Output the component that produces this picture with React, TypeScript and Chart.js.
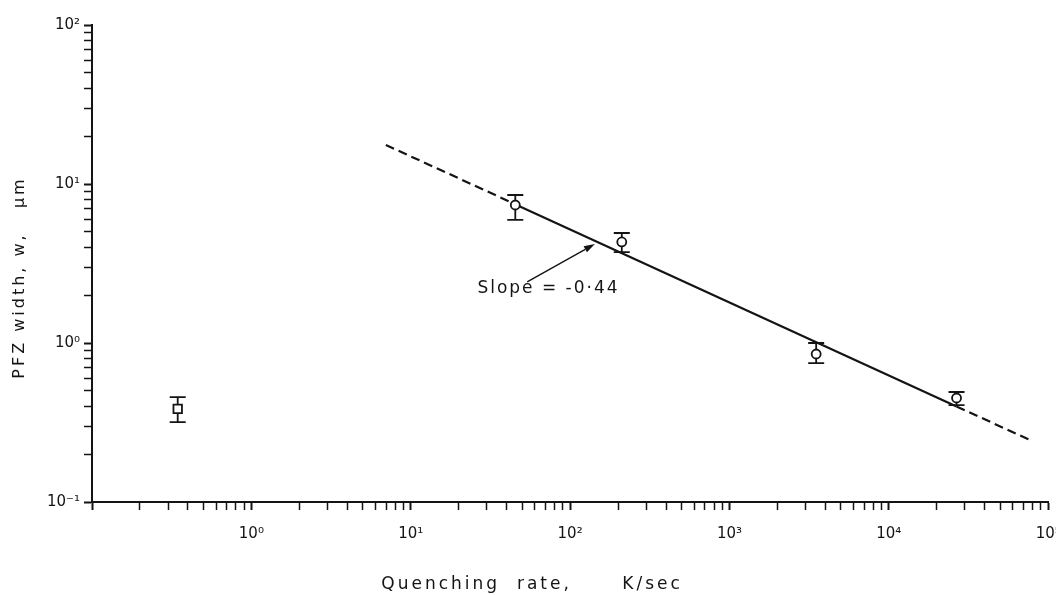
import React, { useEffect, useRef } from 'react';
import { Chart, registerables } from 'chart.js';

Chart.register(...registerables);

// ---- data ----
const circleRates = [45.3, 211, 3500, 26600];
const circleWidths = [7.38, 4.32, 0.853, 0.451];
const circleUpper = [8.53, 4.92, 1.0, 0.492];
const circleLower = [5.94, 3.73, 0.748, 0.407];

const squareRates = [0.345];
const squareWidths = [0.385];
const squareUpper = [0.457];
const squareLower = [0.318];

const fitRates = [6.98, 47.3, 26600, 77200];
const fitWidths = [17.6, 7.31, 0.399, 0.245];
const fitSegmentDashed = [true, false, true];

const xDecades = [-1, 0, 1, 2, 3, 4, 5];
const yDecades = [-1, 0, 1, 2];
const xTickLabels = ['10⁻¹', '10⁰', '10¹', '10²', '10³', '10⁴', '10⁵'];
const yTickLabels = ['10⁻¹', '10⁰', '10¹', '10²'];
const xHiddenLabels = ['10⁻¹'];

const xTitle = 'Quenching  rate,      K/sec';
const yTitle = 'PFZ width, w,   μm';
const slopeLabel = 'Slope = -0·44';
const arrowTail = [53.8, 2.42];
const arrowTip = [143, 4.2];
const slopeLabelAt = [26.2, 2.19];

const INK = '#141414';
const FONT = '"DejaVu Sans", sans-serif';

function logTicks(decades: number[]) {
  const vals: { value: number; major: boolean }[] = [];
  for (let i = 0; i < decades.length - 1; i++) {
    for (let m = 1; m <= 9; m++) {
      vals.push({ value: m * Math.pow(10, decades[i]), major: m === 1 });
    }
  }
  vals.push({ value: Math.pow(10, decades[decades.length - 1]), major: true });
  return vals;
}

function labelFor(value: number, decades: number[], labels: string[], hidden: string[] = []) {
  const l = Math.log10(value);
  const r = Math.round(l);
  if (Math.abs(l - r) > 1e-6) return '';
  const idx = decades.indexOf(r);
  if (idx < 0) return '';
  const s = labels[idx];
  return hidden.includes(s) ? '' : s;
}

const overlay = {
  id: 'overlay',
  beforeDatasetsDraw(chart: any) {
    const { ctx, scales } = chart;
    const x = scales.x;
    const y = scales.y;
    ctx.save();
    ctx.strokeStyle = INK;
    ctx.lineWidth = 1.8;
    const drawBars = (rates: number[], up: number[], lo: number[]) => {
      rates.forEach((r, i) => {
        const px = x.getPixelForValue(r);
        const top = y.getPixelForValue(up[i]);
        const bot = y.getPixelForValue(lo[i]);
        ctx.beginPath();
        ctx.moveTo(px, top);
        ctx.lineTo(px, bot);
        ctx.moveTo(px - 8, top);
        ctx.lineTo(px + 8, top);
        ctx.moveTo(px - 8, bot);
        ctx.lineTo(px + 8, bot);
        ctx.stroke();
      });
    };
    drawBars(circleRates, circleUpper, circleLower);
    drawBars(squareRates, squareUpper, squareLower);
    ctx.restore();
  },
  afterDraw(chart: any) {
    const { ctx, scales, chartArea } = chart;
    const x = scales.x;
    const y = scales.y;
    ctx.save();
    // arrow
    const tx = x.getPixelForValue(arrowTail[0]);
    const ty = y.getPixelForValue(arrowTail[1]);
    const hx = x.getPixelForValue(arrowTip[0]);
    const hy = y.getPixelForValue(arrowTip[1]);
    const ang = Math.atan2(hy - ty, hx - tx);
    const L = 11;
    const W = 3.5;
    ctx.strokeStyle = INK;
    ctx.fillStyle = INK;
    ctx.lineWidth = 1.4;
    ctx.beginPath();
    ctx.moveTo(tx, ty);
    ctx.lineTo(hx - L * Math.cos(ang), hy - L * Math.sin(ang));
    ctx.stroke();
    ctx.beginPath();
    ctx.moveTo(hx, hy);
    ctx.lineTo(hx - L * Math.cos(ang) + W * Math.sin(ang), hy - L * Math.sin(ang) - W * Math.cos(ang));
    ctx.lineTo(hx - L * Math.cos(ang) - W * Math.sin(ang), hy - L * Math.sin(ang) + W * Math.cos(ang));
    ctx.closePath();
    ctx.fill();

    // slope label
    (ctx as any).letterSpacing = '2px';
    ctx.font = `17px ${FONT}`;
    ctx.textAlign = 'left';
    ctx.textBaseline = 'middle';
    ctx.fillText(slopeLabel, x.getPixelForValue(slopeLabelAt[0]), y.getPixelForValue(slopeLabelAt[1]));

    // x title
    (ctx as any).letterSpacing = '3px';
    ctx.font = `17px ${FONT}`;
    ctx.textAlign = 'center';
    ctx.fillText(xTitle, (chartArea.left + chartArea.right) / 2 - 38, 585);

    // y title
    ctx.translate(20, (chartArea.top + chartArea.bottom) / 2 + 14);
    ctx.rotate(-Math.PI / 2);
    (ctx as any).letterSpacing = '3px';
    ctx.font = `16px ${FONT}`;
    ctx.fillText(yTitle, 0, 0);
    ctx.restore();
  },
};

export default function App() {
  const ref = useRef<HTMLCanvasElement | null>(null);

  useEffect(() => {
    if (!ref.current) return;
    const tickWidth = (c: any) => (c.tick && c.tick.major ? 2 : 1.5);
    const chart = new Chart(ref.current, {
      type: 'scatter',
      data: {
        datasets: [
          {
            label: 'circles',
            data: circleRates.map((r, i) => ({ x: r, y: circleWidths[i] })),
            pointStyle: 'circle',
            pointRadius: 4.5,
            pointBorderWidth: 1.8,
            pointBorderColor: INK,
            pointBackgroundColor: '#ffffff',
            showLine: false,
          },
          {
            label: 'square',
            data: squareRates.map((r, i) => ({ x: r, y: squareWidths[i] })),
            pointStyle: 'rect',
            pointRadius: 6,
            pointBorderWidth: 1.8,
            pointBorderColor: INK,
            pointBackgroundColor: '#ffffff',
            showLine: false,
          },
          {
            label: 'fit',
            data: fitRates.map((r, i) => ({ x: r, y: fitWidths[i] })),
            showLine: true,
            pointRadius: 0,
            borderColor: INK,
            borderWidth: 2.2,
            segment: {
              borderDash: (c: any) => (fitSegmentDashed[c.p0DataIndex] ? [9, 5] : []),
            },
          } as any,
        ],
      },
      options: {
        animation: false,
        responsive: false,
        layout: { padding: { top: 25, right: 6, left: 0, bottom: 0 } },
        plugins: { legend: { display: false }, tooltip: { enabled: false } },
        scales: {
          x: {
            type: 'logarithmic',
            min: Math.pow(10, xDecades[0]),
            max: Math.pow(10, xDecades[xDecades.length - 1]),
            afterBuildTicks: (s: any) => {
              s.ticks = logTicks(xDecades);
            },
            afterFit: (s: any) => {
              s.height = 93;
              s.paddingLeft = 0;
              s.paddingRight = 0;
            },
            ticks: {
              autoSkip: false,
              maxRotation: 0,
              minRotation: 0,
              padding: 15,
              color: INK,
              font: { family: FONT, size: 15 },
              callback: (v: any) => labelFor(Number(v), xDecades, xTickLabels, xHiddenLabels),
            },
            grid: {
              display: true,
              drawOnChartArea: false,
              drawTicks: true,
              tickLength: 8,
              tickColor: INK,
              tickWidth,
            } as any,
            border: { display: true, color: INK, width: 2 },
          },
          y: {
            type: 'logarithmic',
            min: Math.pow(10, yDecades[0]),
            max: Math.pow(10, yDecades[yDecades.length - 1]),
            afterBuildTicks: (s: any) => {
              s.ticks = logTicks(yDecades);
            },
            afterFit: (s: any) => {
              s.width = 92;
              s.paddingTop = 0;
              s.paddingBottom = 0;
            },
            ticks: {
              autoSkip: false,
              padding: 4,
              color: INK,
              font: { family: FONT, size: 15 },
              callback: (v: any) => labelFor(Number(v), yDecades, yTickLabels),
            },
            grid: {
              display: true,
              drawOnChartArea: false,
              drawTicks: true,
              tickLength: 8,
              tickColor: INK,
              tickWidth,
            } as any,
            border: { display: true, color: INK, width: 2 },
          },
        },
      } as any,
      plugins: [overlay],
    });
    return () => chart.destroy();
  }, []);

  return (
    <div style={{ position: 'fixed', left: 0, top: 0, width: 1056, height: 595, background: '#ffffff' }}>
      <canvas ref={ref} width={1056} height={595} style={{ display: 'block' }} />
    </div>
  );
}
